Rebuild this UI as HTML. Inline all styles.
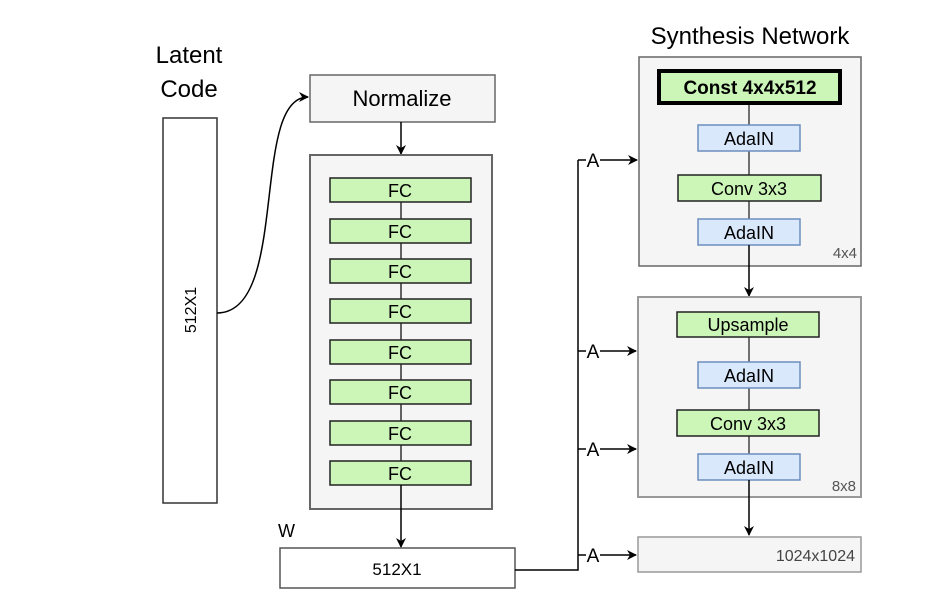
<!DOCTYPE html>
<html><head><style>html,body{margin:0;padding:0;background:#fff}</style></head><body>
<svg width="946" height="609" xmlns="http://www.w3.org/2000/svg" font-family="Liberation Sans, sans-serif">
<defs><marker id="a" markerWidth="10" markerHeight="10" refX="9" refY="5" orient="auto" markerUnits="userSpaceOnUse"><path d="M0,0 L10,5 L0,10 L3,5 z" fill="#000"/></marker></defs>
<text x="189" y="63" font-size="24" text-anchor="middle">Latent</text>
<text x="189" y="97" font-size="24" text-anchor="middle">Code</text>
<rect x="163" y="118" width="54" height="385" fill="#fff" stroke="#333" stroke-width="1.5"/>
<text transform="translate(196,310) rotate(-90)" font-size="16" text-anchor="middle">512X1</text>
<path d="M217,313 C290,313 250,97 308,97" fill="none" stroke="#000" stroke-width="1.5" marker-end="url(#a)"/>
<rect x="310" y="75" width="185" height="47" fill="#f5f5f5" stroke="#666" stroke-width="1.5"/>
<text x="402" y="106" font-size="22" text-anchor="middle">Normalize</text>
<line x1="401" y1="122" x2="401" y2="154" stroke="#000" stroke-width="1.5" marker-end="url(#a)"/>
<rect x="310" y="155" width="182" height="354" fill="#f5f5f5" stroke="#666" stroke-width="2"/>
<line x1="401" y1="190" x2="401" y2="473" stroke="#333" stroke-width="1.5"/>
<g fill="#ccf5b8" stroke="#222" stroke-width="1.5">
<rect x="330" y="178" width="141" height="24"/><rect x="330" y="219" width="141" height="24"/>
<rect x="330" y="259" width="141" height="24"/><rect x="330" y="299" width="141" height="24"/>
<rect x="330" y="340" width="141" height="24"/><rect x="330" y="380" width="141" height="24"/>
<rect x="330" y="421" width="141" height="24"/><rect x="330" y="461" width="141" height="24"/>
</g>
<g font-size="18" text-anchor="middle">
<text x="400" y="197">FC</text><text x="400" y="238">FC</text><text x="400" y="278">FC</text><text x="400" y="318">FC</text>
<text x="400" y="359">FC</text><text x="400" y="399">FC</text><text x="400" y="440">FC</text><text x="400" y="480">FC</text>
</g>
<line x1="401" y1="485" x2="401" y2="547" stroke="#000" stroke-width="1.5" marker-end="url(#a)"/>
<text x="278" y="537" font-size="18">W</text>
<rect x="280" y="548" width="235" height="40" fill="#fff" stroke="#555" stroke-width="1.5"/>
<text x="397" y="575" font-size="17" text-anchor="middle">512X1</text>
<path d="M515,570 H578 V160" fill="none" stroke="#000" stroke-width="1.5"/>
<g stroke="#000" stroke-width="1.5">
<line x1="578" y1="160" x2="586" y2="160"/><line x1="600" y1="160" x2="637" y2="160" marker-end="url(#a)"/>
<line x1="578" y1="351" x2="586" y2="351"/><line x1="600" y1="351" x2="636" y2="351" marker-end="url(#a)"/>
<line x1="578" y1="449" x2="586" y2="449"/><line x1="600" y1="449" x2="636" y2="449" marker-end="url(#a)"/>
<line x1="578" y1="555" x2="586" y2="555"/><line x1="600" y1="555" x2="636" y2="555" marker-end="url(#a)"/>
</g>
<g font-size="19" text-anchor="middle">
<text x="593" y="167">A</text><text x="593" y="358">A</text><text x="593" y="456">A</text><text x="593" y="562">A</text>
</g>
<text x="750" y="44" font-size="24" text-anchor="middle">Synthesis Network</text>
<rect x="639" y="57" width="222" height="209" fill="#f5f5f5" stroke="#666" stroke-width="1.5"/>
<line x1="749" y1="104" x2="749" y2="245" stroke="#444" stroke-width="1.5"/>
<rect x="659" y="71" width="181" height="32" fill="#ccf5b8" stroke="#000" stroke-width="4"/>
<text x="750" y="94" font-size="19" font-weight="bold" text-anchor="middle">Const 4x4x512</text>
<rect x="698" y="125" width="102" height="26" fill="#dae8fc" stroke="#6c8ebf" stroke-width="1.5"/>
<text x="749" y="145" font-size="18" text-anchor="middle">AdaIN</text>
<rect x="678" y="175" width="143" height="26" fill="#ccf5b8" stroke="#222" stroke-width="1.5"/>
<text x="749" y="195" font-size="18" text-anchor="middle">Conv 3x3</text>
<rect x="698" y="219" width="102" height="26" fill="#dae8fc" stroke="#6c8ebf" stroke-width="1.5"/>
<text x="749" y="239" font-size="18" text-anchor="middle">AdaIN</text>
<text x="857" y="258" font-size="15" fill="#555" text-anchor="end">4x4</text>
<line x1="749" y1="245" x2="749" y2="296" stroke="#000" stroke-width="1.5" marker-end="url(#a)"/>
<rect x="638" y="297" width="223" height="200" fill="#f5f5f5" stroke="#999" stroke-width="2"/>
<line x1="749" y1="337" x2="749" y2="480" stroke="#444" stroke-width="1.5"/>
<rect x="677" y="312" width="142" height="25" fill="#ccf5b8" stroke="#222" stroke-width="1.5"/>
<text x="748" y="331" font-size="18" text-anchor="middle">Upsample</text>
<rect x="698" y="362" width="102" height="26" fill="#dae8fc" stroke="#6c8ebf" stroke-width="1.5"/>
<text x="749" y="382" font-size="18" text-anchor="middle">AdaIN</text>
<rect x="677" y="410" width="142" height="26" fill="#ccf5b8" stroke="#222" stroke-width="1.5"/>
<text x="748" y="430" font-size="18" text-anchor="middle">Conv 3x3</text>
<rect x="698" y="454" width="102" height="26" fill="#dae8fc" stroke="#6c8ebf" stroke-width="1.5"/>
<text x="749" y="474" font-size="18" text-anchor="middle">AdaIN</text>
<text x="856" y="491" font-size="15" fill="#555" text-anchor="end">8x8</text>
<line x1="749" y1="480" x2="749" y2="535" stroke="#000" stroke-width="1.5" marker-end="url(#a)"/>
<rect x="638" y="537" width="223" height="35" fill="#f5f5f5" stroke="#999" stroke-width="1.5"/>
<text x="855" y="561" font-size="16" fill="#444" text-anchor="end">1024x1024</text>
</svg>
</body></html>
